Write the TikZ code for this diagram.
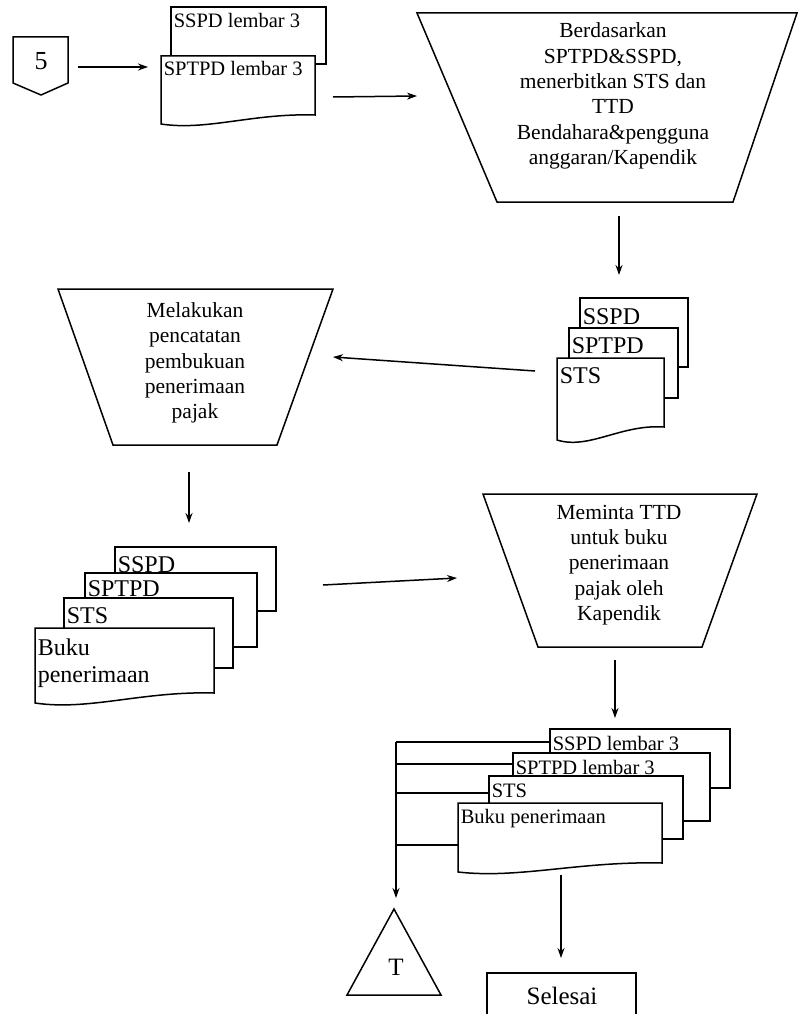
\documentclass[tikz,border=0pt]{standalone}
\usepackage{fontspec}
\setmainfont{Liberation Serif}
\usetikzlibrary{arrows.meta}
\begin{document}
\begin{tikzpicture}[x=1pt,y=-1pt,
  line width=1.5pt,
  arr/.style={-{Stealth[length=10pt,width=7pt]}},
  shp/.style={draw=black, fill=white, line join=miter},
  doctxt/.style={anchor=base west, inner sep=0pt, font=\fontsize{24}{28}\selectfont},
  doctxts/.style={anchor=base west, inner sep=0pt, font=\fontsize{20.5}{24}\selectfont},
  proctxt/.style={align=center, inner sep=0pt, font=\fontsize{21.5}{25.4}\selectfont},
]
\useasboundingbox (0,0) rectangle (800,1014);
\clip (0,0) rectangle (800,1014);

% ---------- off-page connector 5
\draw[shp] (13,37) -- (68,37) -- (68,83) -- (41,95) -- (13,83) -- cycle;
\node[inner sep=0pt, font=\fontsize{26}{30}\selectfont] (c5) at (41,61) {5};

% ---------- document group 1
\draw[shp] (171,7) rectangle (326,64);
\node[doctxts] (d1a) at (173,28) {SSPD lembar 3};
\draw[shp] (161,56) -- (315,56) -- (315,115) .. controls (253,113) and (207,131) .. (161,124) -- cycle;
\node[doctxts] (d1b) at (163,76) {SPTPD lembar 3};

% ---------- process 1
\draw[shp] (417,13) -- (797,13) -- (733,202) -- (497,202) -- cycle;
\node[proctxt] (p1) at (613,96) {Berdasarkan\\SPTPD\&SSPD,\\menerbitkan STS dan\\TTD\\Bendahara\&pengguna\\anggaran/Kapendik};

% ---------- document group 2
\draw[shp] (580,298) rectangle (688,367);
\node[doctxt] (d2a) at (582,324) {SSPD};
\draw[shp] (569,328) rectangle (678,398);
\node[doctxt] (d2b) at (571,353) {SPTPD};
\draw[shp] (557,358) -- (664,358) -- (664,427) .. controls (621,424) and (589,450) .. (557,440) -- cycle;
\node[doctxt] (d2c) at (559,383) {STS};

% ---------- process 2
\draw[shp] (58,289) -- (333,289) -- (277,445) -- (113,445) -- cycle;
\node[proctxt] (p2) at (195,363) {Melakukan\\pencatatan\\pembukuan\\penerimaan\\pajak};

% ---------- document group 3
\draw[shp] (115,547) rectangle (276,611);
\node[doctxt] (d3a) at (117,572) {SSPD};
\draw[shp] (85,573) rectangle (257,647);
\node[doctxt] (d3b) at (87,596) {SPTPD};
\draw[shp] (64,598) rectangle (233,668);
\node[doctxt] (d3c) at (66,623) {STS};
\draw[shp] (35,628) -- (214,628) -- (214,693) .. controls (142,691) and (89,711) .. (35,703) -- cycle;
\node[doctxt] (d3d) at (37,655) {Buku};
\node[doctxt] (d3e) at (37,682) {penerimaan};

% ---------- process 3
\draw[shp] (483,494) -- (757,494) -- (702,647) -- (538,647) -- cycle;
\node[proctxt] (p3) at (619,565) {Meminta TTD\\untuk buku\\penerimaan\\pajak oleh\\Kapendik};

% ---------- document group 4
\draw[shp] (550,729) rectangle (730,788);
\node[doctxts] (d4a) at (552,750) {SSPD lembar 3};
\draw[shp] (513,753) rectangle (710,821);
\node[doctxts] (d4b) at (515,774) {SPTPD lembar 3};
\draw[shp] (489,776) rectangle (683,839);
\node[doctxts] (d4c) at (491,797) {STS};
\draw[shp] (458,803) -- (662,803) -- (662,863) .. controls (580,861) and (519,879) .. (458,872) -- cycle;
\node[doctxts] (d4d) at (460,823) {Buku penerimaan};

% ---------- terminator triangle and end box
\draw[shp] (394,909) -- (441,995) -- (347,995) -- cycle;
\node[inner sep=0pt, font=\fontsize{25}{28}\selectfont] (tt) at (396,967) {T};
\draw[shp] (487,973) rectangle (636,1030);
\node[inner sep=0pt, font=\fontsize{25}{28}\selectfont] (sel) at (562,996) {Selesai};

% ---------- connector end points
\coordinate (a1s) at (78,67);   \coordinate (a1e) at (148,67);
\coordinate (a2s) at (333,97);  \coordinate (a2e) at (417,96);
\coordinate (a3s) at (619,216); \coordinate (a3e) at (619,275);
\coordinate (a4s) at (535,371); \coordinate (a4e) at (333,357);
\coordinate (a5s) at (189,472); \coordinate (a5e) at (189,523);
\coordinate (a6s) at (323,585); \coordinate (a6e) at (457,578);
\coordinate (a7s) at (615,660); \coordinate (a7e) at (615,718);
\coordinate (v1) at (396,742);  \coordinate (v2) at (396,764);
\coordinate (v3) at (396,793);  \coordinate (v4) at (396,845);
\coordinate (a8e) at (396,898);
\coordinate (h1) at (550,742);  \coordinate (h2) at (513,764);
\coordinate (h3) at (489,793);  \coordinate (h4) at (458,845);
\coordinate (a9s) at (561,875); \coordinate (a9e) at (561,958);

% ---------- connectors
\draw[arr] (a1s) -- (a1e);
\draw[arr] (a2s) -- (a2e);
\draw[arr] (a3s) -- (a3e);
\draw[arr] (a4s) -- (a4e);
\draw[arr] (a5s) -- (a5e);
\draw[arr] (a6s) -- (a6e);
\draw[arr] (a7s) -- (a7e);
\draw (h1) -- (v1);
\draw (h2) -- (v2);
\draw (h3) -- (v3);
\draw (h4) -- (v4);
\draw[arr] (v1) -- (a8e);
\draw[arr] (a9s) -- (a9e);
\end{tikzpicture}
\end{document}
